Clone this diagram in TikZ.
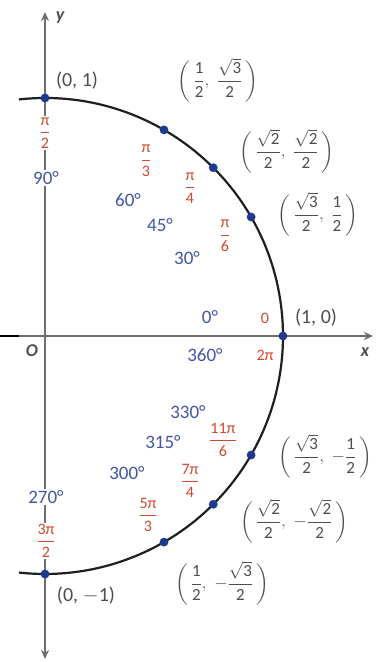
\documentclass[tikz,border=0pt]{standalone}
\usepackage{amsmath}
\usepackage{fontspec}
\setmainfont{Carlito}
\usetikzlibrary{arrows.meta}
\definecolor{axisgray}{HTML}{6E6E6E}
\definecolor{degblue}{HTML}{4455A5}
\definecolor{radred}{HTML}{D2482E}
\definecolor{dotblue}{HTML}{1E3A8C}
\definecolor{txtgray}{HTML}{4E4E4E}
\newcommand\tf[2]{\dfrac{\text{#1}}{\text{#2}}}
\newcommand\sq[1]{\sqrt{\text{#1}}}
\newcommand\pr[2]{\left(\,#1,\;#2\,\right)}
\begin{document}
\begin{tikzpicture}[x=1pt,y=1pt,
  axis/.style={draw=axisgray,line width=2.6pt,-{Stealth[length=9pt,width=8pt]}},
  coordlbl/.style={text=txtgray,inner sep=0pt,font=\fontsize{17}{19}\selectfont},
  plainlbl/.style={text=txtgray,inner sep=0pt,font=\fontsize{20}{22}\selectfont},
  deglbl/.style={text=degblue,inner sep=0pt,font=\fontsize{19}{21}\selectfont},
  radlbl/.style={text=radred,inner sep=0pt,font=\fontsize{16}{18}\selectfont},
  onaxis/.style={fill=white,inner sep=1.5pt},
  dot/.style={fill=dotblue}]
\useasboundingbox (0,0) rectangle (385,662);
\fill[white] (0,0) rectangle (385,662);
\coordinate (O) at (45,326);
\coordinate (xl) at (19,326);
\coordinate (xr) at (373,326);
\coordinate (xk) at (0,326);
\coordinate (yb) at (45,3);
\coordinate (yt) at (45,650);
% axes
\draw[line width=2.8pt,black] (xk) -- (xl);
\draw[axis] (xl) -- (xr);
\draw[axis,{Stealth[length=9pt,width=8pt]}-{Stealth[length=9pt,width=8pt]}] (yb) -- (yt);
% circle
\draw[line width=2.2pt,black!88] ([shift={(O)}]96.3:238) arc[start angle=96.3,end angle=-96.3,radius=238];
% points
\foreach \a/\n in {0/p0,30/p30,45/p45,60/p60,90/p90,-90/p270,-60/p300,-45/p315,-30/p330}
  \fill[dot] ([shift={(O)}]\a:238) circle (4.4) coordinate (\n);
% axis letters
\node[text=txtgray,font=\fontsize{18}{20}\selectfont\bfseries\itshape] (ylab) at (60,644) {y};
\node[text=txtgray,font=\fontsize{18}{20}\selectfont\bfseries\itshape] (xlab) at (365,310) {x};
\node[text=txtgray,font=\fontsize{18}{20}\selectfont\bfseries\itshape] (olab) at (32,311) {O};
% coordinates
\node[plainlbl] (c90) at (77,581) {(0, 1)};
\node[coordlbl] (c60) at (218,582) {$\pr{\tf{1}{2}}{\tf{$\sq{3}$}{2}}$};
\node[coordlbl] (c45) at (287,511) {$\pr{\tf{$\sq{2}$}{2}}{\tf{$\sq{2}$}{2}}$};
\node[coordlbl] (c30) at (318,448) {$\pr{\tf{$\sq{3}$}{2}}{\tf{1}{2}}$};
\node[plainlbl] (c0) at (316,344) {(1, 0)};
\node[coordlbl] (c330) at (325,206) {$\pr{\tf{$\sq{3}$}{2}}{-\tf{1}{2}}$};
\node[coordlbl] (c315) at (294,141) {$\pr{\tf{$\sq{2}$}{2}}{-\tf{$\sq{2}$}{2}}$};
\node[coordlbl] (c300) at (222,79) {$\pr{\tf{1}{2}}{-\tf{$\sq{3}$}{2}}$};
\node[plainlbl] (c270) at (86,66) {(0, $-$1)};
% angles
\node[radlbl,onaxis] (r90) at (45,529) {$\tf{π}{2}$};
\node[deglbl,onaxis] (d90) at (46,484) {90°};
\node[radlbl] (r60) at (146,501) {$\tf{π}{3}$};
\node[deglbl] (d60) at (128,462) {60°};
\node[radlbl] (r45) at (190,474) {$\tf{π}{4}$};
\node[deglbl] (d45) at (160,437) {45°};
\node[radlbl] (r30) at (225,426) {$\tf{π}{6}$};
\node[deglbl] (d30) at (187,404) {30°};
\node[deglbl] (d0) at (210,345) {0°};
\node[radlbl] (r0) at (265,344) {0};
\node[deglbl] (d360) at (205,307) {360°};
\node[radlbl] (r360) at (265,307) {2π};
\node[deglbl] (d330) at (188,250) {330°};
\node[radlbl] (r330) at (223,222) {$\tf{11π}{6}$};
\node[deglbl] (d315) at (163,220) {315°};
\node[radlbl] (r315) at (190,181) {$\tf{7π}{4}$};
\node[deglbl] (d300) at (127,189) {300°};
\node[radlbl] (r300) at (148,147) {$\tf{5π}{3}$};
\node[deglbl,onaxis] (d270) at (46,165) {270°};
\node[radlbl,onaxis] (r270) at (46,121) {$\tf{3π}{2}$};
\end{tikzpicture}
\end{document}
